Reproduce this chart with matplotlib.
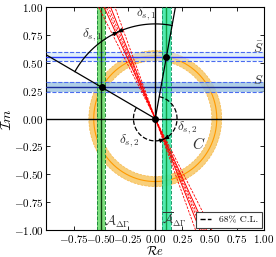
import numpy as np
import matplotlib
matplotlib.use("Agg")
import matplotlib.pyplot as plt
from matplotlib.lines import Line2D

plt.rcParams.update({
    "font.family": "serif",
    "font.serif": ["cmr10"],
    "mathtext.fontset": "cm",
    "axes.formatter.use_mathtext": True,
    "font.size": 8,
})

# ---- data ----
S_val, S_err = 0.28, 0.045
Sbar_val, Sbar_err = 0.557, 0.043
A_val, A_err = -0.495, 0.038
Abar_val, Abar_err = 0.103, 0.040
C_radius, C_err = 0.565, 0.045
sol_x = [-0.49, 0.103]
sol_y = [0.28, 0.557]
red_solid_k = [0.41, 0.47]          # x where red lines hit y = -1
red_dashed_k = [0.37, 0.43, 0.45, 0.52]
delta1_radius = 0.85
delta2_radius = 0.20
xticks = [-0.75, -0.50, -0.25, 0.00, 0.25, 0.50, 0.75, 1.00]
yticks = [-1.00, -0.75, -0.50, -0.25, 0.00, 0.25, 0.50, 0.75, 1.00]

fig = plt.figure(figsize=(2.76, 2.57), dpi=100)
ax = fig.add_axes([0.168, 0.105, 0.789, 0.867])
ax.set_xlim(-1, 1)
ax.set_ylim(-1, 1)

# ring C
t = np.linspace(0, 2 * np.pi, 400)
ring_x = np.concatenate([(C_radius + C_err) * np.cos(t), (C_radius - C_err) * np.cos(t[::-1])])
ring_y = np.concatenate([(C_radius + C_err) * np.sin(t), (C_radius - C_err) * np.sin(t[::-1])])
ax.fill(ring_x, ring_y, color="#f7c35a", alpha=0.8, lw=0, zorder=1)
ax.plot(C_radius * np.cos(t), C_radius * np.sin(t), color="#ff9a00", lw=0.8, zorder=2)
for r in (C_radius + C_err, C_radius - C_err):
    ax.plot(r * np.cos(t), r * np.sin(t), color="#f7b84a", lw=0.5, ls="--", zorder=2)

# horizontal S bands
ax.axhspan(S_val - S_err, S_val + S_err, color="#9cc3e0", alpha=0.8, lw=0, zorder=2)
ax.axhspan(Sbar_val - Sbar_err, Sbar_val + Sbar_err, color="#cfe6f8", alpha=0.6, lw=0, zorder=2)
ax.axhline(S_val, color="#1a2a9a", lw=1.0, zorder=3)
ax.axhline(Sbar_val, color="#2a3cff", lw=1.0, zorder=3)
for v in (S_val - S_err, S_val + S_err, Sbar_val - Sbar_err, Sbar_val + Sbar_err):
    ax.axhline(v, color="#4b6cf0", lw=0.8, ls="--", zorder=3)

# vertical A bands
ax.axvspan(A_val - A_err, A_val + A_err, color="#6fdc6f", alpha=0.9, lw=0, zorder=2)
ax.axvspan(Abar_val - Abar_err, Abar_val + Abar_err, color="#3ee8a8", alpha=0.9, lw=0, zorder=2)
ax.axvline(A_val, color="#0d3d0d", lw=1.0, zorder=3)
ax.axvline(Abar_val, color="#10a040", lw=1.0, zorder=3)
for v in (A_val - A_err, A_val + A_err):
    ax.axvline(v, color="#1d8a3a", lw=0.7, ls="--", zorder=3)
for v in (Abar_val - Abar_err, Abar_val + Abar_err):
    ax.axvline(v, color="#1d9a6a", lw=0.7, ls="--", zorder=3)

# axes lines
ax.axhline(0, color="k", lw=1.0, zorder=3)
ax.axvline(0, color="k", lw=1.0, zorder=3)

# red lines through origin
yy = np.array([-1.0, 1.0])
for k in red_solid_k:
    ax.plot(-k * yy, yy, color="red", lw=0.7, zorder=4)
for k in red_dashed_k:
    ax.plot(-k * yy, yy, color="red", lw=0.6, ls="--", dashes=(3, 1.5), zorder=4)

# solution rays
ang = np.arctan2(sol_y, sol_x)
ax.plot([0, -1], [0, -np.tan(ang[0])], color="k", lw=0.9, zorder=5)
ax.plot([0, 1 / np.tan(ang[1])], [0, 1], color="k", lw=0.9, zorder=5)

red_k = np.mean(red_solid_k + red_dashed_k)
red_up = np.arctan2(1.0, -red_k)
red_dn = np.arctan2(-1.0, red_k)


def arc(r, a0, a1, **kw):
    th = np.linspace(a0, a1, 80)
    ax.plot(r * np.cos(th), r * np.sin(th), **kw)
    d = np.sign(a1 - a0) * 0.06
    ax.annotate("", xy=(r * np.cos(a1), r * np.sin(a1)),
                xytext=(r * np.cos(a1 - d), r * np.sin(a1 - d)),
                arrowprops=dict(arrowstyle="-|>", color="k", lw=0.8,
                                mutation_scale=6, shrinkA=0, shrinkB=0),
                zorder=6)


arc(delta1_radius, ang[0], red_up, color="k", lw=0.9, zorder=6)
arc(delta1_radius, ang[1], red_up, color="k", lw=0.9, zorder=6)
arc(delta2_radius, ang[0], red_dn + 2 * np.pi, color="k", lw=0.9, ls="--", zorder=6)
arc(delta2_radius, ang[1], red_dn, color="k", lw=0.9, ls="--", zorder=6)

ax.plot(sol_x + [0.0], sol_y + [0.0], "o", color="k", ms=4, zorder=7)

# labels
lab = dict(fontsize=9.5, color="#333333", zorder=8)
ax.text(-0.58, 0.75, r"$\delta_{s,1}$", ha="center", va="center", **lab)
ax.text(-0.08, 0.94, r"$\delta_{s,1}$", ha="center", va="center", **lab)
ax.text(-0.24, -0.20, r"$\delta_{s,2}$", ha="center", va="center", **lab)
ax.text(0.29, -0.08, r"$\delta_{s,2}$", ha="center", va="center", **lab)
ax.text(0.945, 0.63, r"$\bar{S}$", ha="center", va="center", **lab)
ax.text(0.945, 0.345, r"$S$", ha="center", va="center", **lab)
ax.text(0.40, -0.23, r"$C$", ha="center", va="center", fontsize=11, color="#333333", zorder=8)
ax.text(-0.47, -0.93, r"$\mathcal{A}_{\Delta\Gamma}$", ha="left", va="center", **lab)
ax.text(0.06, -0.91, r"$\overline{\mathcal{A}}_{\Delta\Gamma}$", ha="left", va="center",
        fontsize=9, color="#333333", zorder=8)

ax.set_xticks(xticks)
ax.set_yticks(yticks)
ax.tick_params(direction="in", top=True, right=True, length=3, width=0.6, labelsize=8, pad=2)
ax.set_xlabel(r"$\mathcal{R}e$", fontsize=9, va="top")
ax.xaxis.set_label_coords(0.5, -0.066)
ax.set_ylabel(r"$\mathcal{I}m$", fontsize=10, labelpad=0)

leg = ax.legend([Line2D([], [], color="k", ls="--", lw=1)], ["68% C.L."],
                loc="lower right", fontsize=7, fancybox=False, edgecolor="0.25",
                handlelength=1.2, borderaxespad=0.25, borderpad=0.35, handletextpad=0.8,
                framealpha=1)
leg.get_frame().set_linewidth(0.8)
leg.set_zorder(10)

fig.savefig("out.png", dpi=100)
